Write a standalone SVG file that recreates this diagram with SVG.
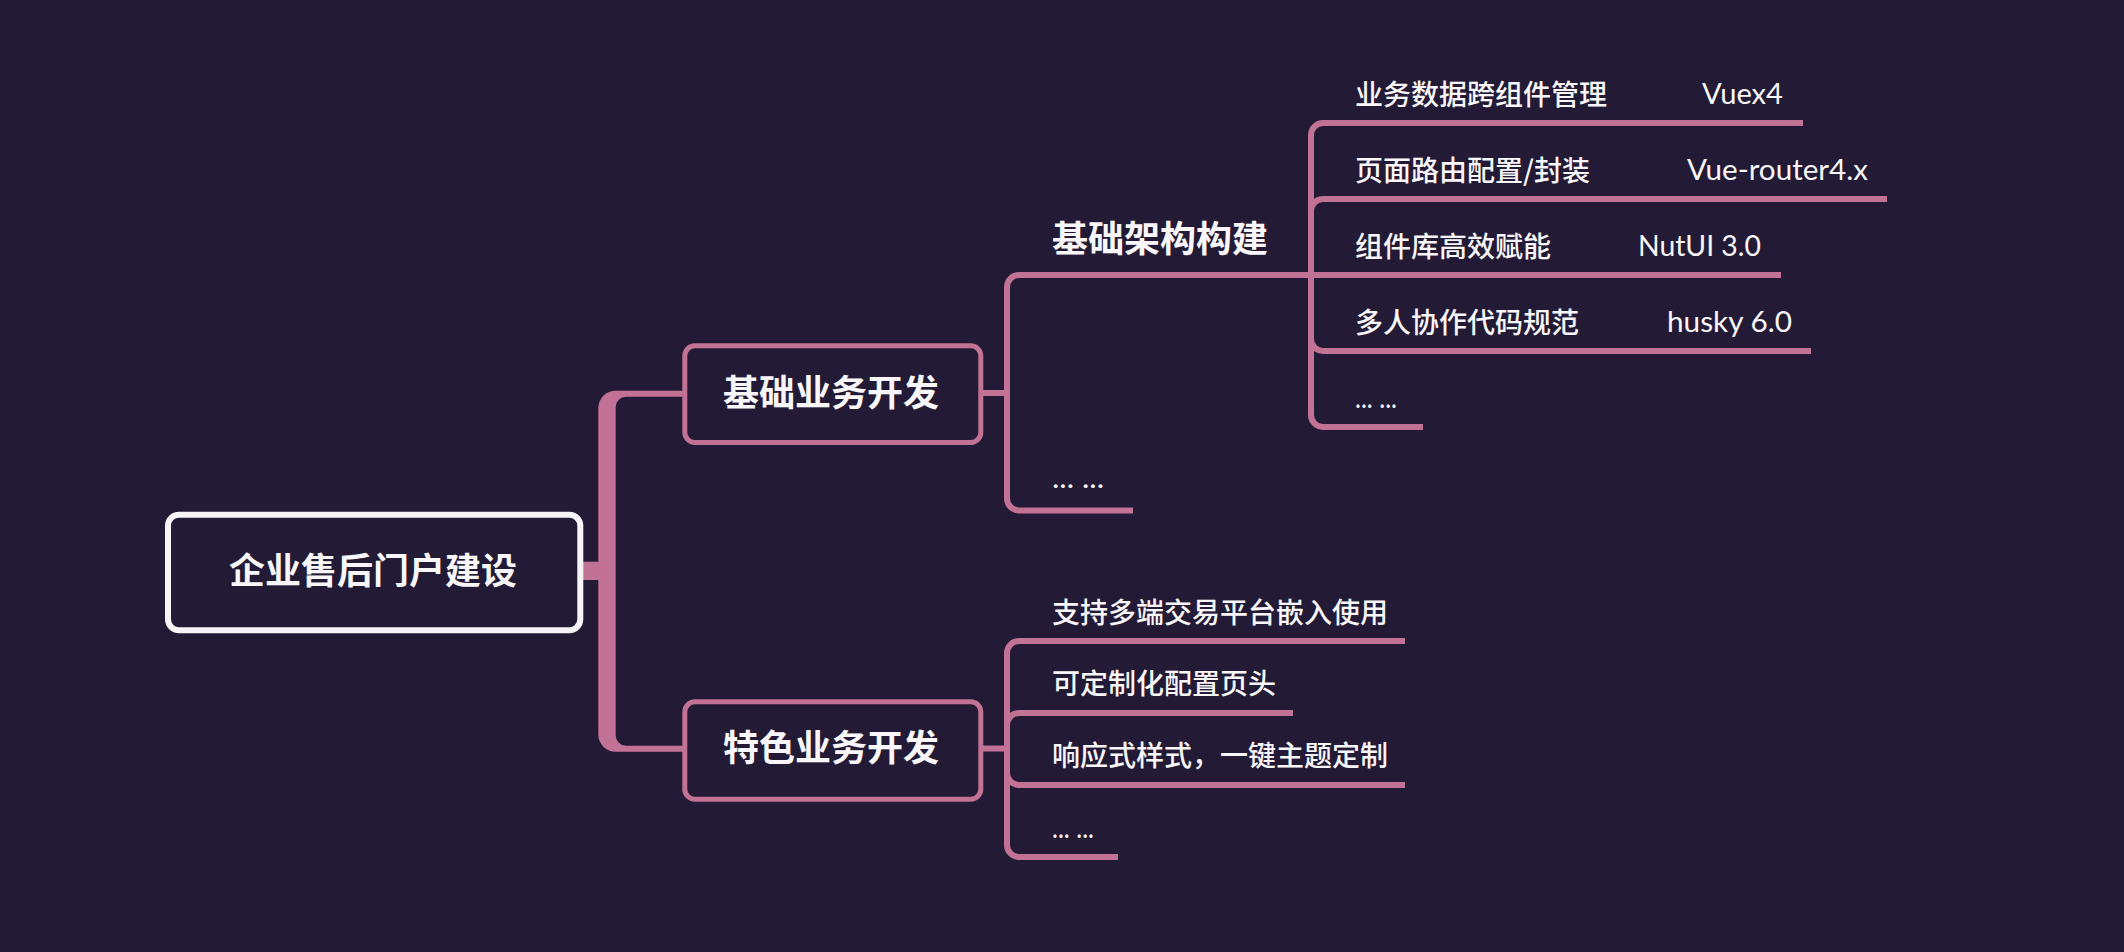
<svg xmlns="http://www.w3.org/2000/svg" width="2124" height="952" viewBox="0 0 2124 952">
  <style>
    .bg { fill: #231b35; }
    .ln { fill: none; stroke: #c27294; stroke-width: 6; stroke-linecap: butt; }
    .trunk { fill: #c27294; }
    .rootbox { fill: #231b35; stroke: #f6f4f6; stroke-width: 6; }
    .box { fill: #231b35; stroke: #c27294; stroke-width: 5; }
    .main { font-family: "Noto Sans CJK SC", "Noto Sans", sans-serif; font-size: 36px; font-weight: 600; fill: #f8f6f8; }
    .sub { font-family: "Noto Sans CJK SC", "Noto Sans", sans-serif; font-size: 36px; font-weight: 600; fill: #f8f6f8; }
    .leaf { font-family: "Noto Sans CJK SC", "Noto Sans", sans-serif; font-size: 28px; font-weight: 500; fill: #f8f6f8; }
    .lat { font-family: Lato, "Open Sans", "Noto Sans CJK SC", sans-serif; font-size: 28px; font-weight: normal; fill: #f8f6f8; }
  </style>
  <rect class="bg" x="0" y="0" width="2124" height="952"/>

  <g id="connectors">
    <rect class="trunk" x="582" y="561.7" width="17" height="18.3"/>
    <path class="trunk" d="M 598.3 408 A 17.3 17.3 0 0 1 615.6 390.7 H 684 V 396.7 H 626 A 10.3 10.3 0 0 0 615.7 407 V 735.4 A 10.3 10.3 0 0 0 626 745.7 H 684 V 751.7 H 615.6 A 17.3 17.3 0 0 1 598.3 734.4 Z"/>
    <path class="ln" d="M 981 393 H 1007 V 287 A 12 12 0 0 1 1019 275 H 1311"/>
    <path class="ln" d="M 1007 393 V 498.5 A 12 12 0 0 0 1019 510.5 H 1133"/>
    <path class="ln" d="M 1311 275 V 135 A 12 12 0 0 1 1323 123 H 1803"/>
    <path class="ln" d="M 1311 275 V 211 A 12 12 0 0 1 1323 199 H 1887"/>
    <path class="ln" d="M 1311 275 H 1781"/>
    <path class="ln" d="M 1311 275 V 339 A 12 12 0 0 0 1323 351 H 1811"/>
    <path class="ln" d="M 1311 275 V 415 A 12 12 0 0 0 1323 427 H 1423"/>
    <path class="ln" d="M 981 748.5 H 1007 V 653 A 12 12 0 0 1 1019 641 H 1405"/>
    <path class="ln" d="M 1007 748.5 V 725 A 12 12 0 0 1 1019 713 H 1293"/>
    <path class="ln" d="M 1007 748.5 V 773 A 12 12 0 0 0 1019 785 H 1405"/>
    <path class="ln" d="M 1007 748.5 V 845 A 12 12 0 0 0 1019 857 H 1118"/>
  </g>

  <g id="root">
    <rect class="rootbox" x="168" y="514.7" width="412.3" height="115.6" rx="11"/>
    <text class="main" x="373" y="583.6" text-anchor="middle">企业售后门户建设</text>
  </g>

  <g id="b1">
    <rect class="box" x="684.8" y="345.8" width="296" height="96.7" rx="10"/>
    <text class="main" x="831" y="405.8" text-anchor="middle">基础业务开发</text>
  </g>

  <g id="b2">
    <rect class="box" x="684.8" y="701.8" width="296" height="97.4" rx="10"/>
    <text class="main" x="831" y="761" text-anchor="middle">特色业务开发</text>
  </g>

  <g id="b1-1">
    <text class="sub" x="1052" y="252">基础架构构建</text>
  </g>
  <g id="b1-2">
    <text class="lat" x="1052" y="488.3" font-size="36" textLength="52" lengthAdjust="spacingAndGlyphs">... ...</text>
  </g>

  <g id="l1">
    <text class="leaf" x="1355" y="105">业务数据跨组件管理</text>
    <text class="lat" x="1702" y="104" textLength="81" lengthAdjust="spacingAndGlyphs">Vuex4</text>
  </g>
  <g id="l2">
    <text class="leaf" x="1355" y="181">页面路由配置/封装</text>
    <text class="lat" x="1687" y="180" textLength="181" lengthAdjust="spacingAndGlyphs">Vue-router4.x</text>
  </g>
  <g id="l3">
    <text class="leaf" x="1355" y="257">组件库高效赋能</text>
    <text class="lat" x="1638" y="256" textLength="123" lengthAdjust="spacingAndGlyphs">NutUI 3.0</text>
  </g>
  <g id="l4">
    <text class="leaf" x="1355" y="333">多人协作代码规范</text>
    <text class="lat" x="1667" y="332" textLength="125" lengthAdjust="spacingAndGlyphs">husky 6.0</text>
  </g>
  <g id="l5">
    <text class="lat" x="1355" y="407.5" textLength="42" lengthAdjust="spacingAndGlyphs">... ...</text>
  </g>

  <g id="s1">
    <text class="leaf" x="1052" y="622.5">支持多端交易平台嵌入使用</text>
  </g>
  <g id="s2">
    <text class="leaf" x="1052" y="694.3">可定制化配置页头</text>
  </g>
  <g id="s3">
    <text class="leaf" x="1052" y="766.3">响应式样式，一键主题定制</text>
  </g>
  <g id="s4">
    <text class="lat" x="1052" y="837.5" textLength="42" lengthAdjust="spacingAndGlyphs">... ...</text>
  </g>
</svg>
